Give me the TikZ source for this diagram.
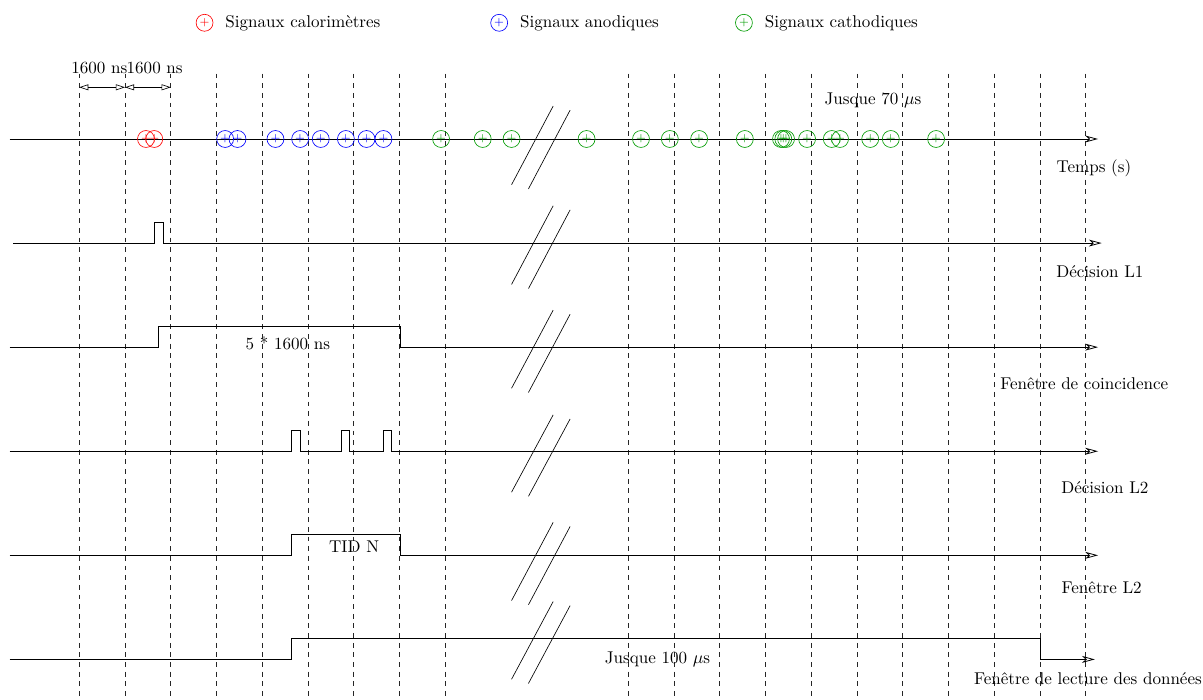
\documentclass[tikz,border=0pt]{standalone}
\usepackage{amsmath}
\usepackage{tikz}
\usetikzlibrary{arrows.meta,positioning}
\definecolor{caloc}{RGB}{255,0,0}
\definecolor{anoc}{RGB}{0,0,255}
\definecolor{cathc}{RGB}{0,155,0}
\tikzset{
  sig/.style={circle,draw,minimum size=3.7mm,inner sep=0pt,font=\scriptsize},
  vline/.style={dashed,line width=0.45pt,black!85},
  axe/.style={-{Stealth[open,length=2.8mm,width=1.5mm,inset=0.8mm]},line width=0.5pt},
  brk/.style={line width=0.4pt},
  dim/.style={{Triangle[open,length=2mm,width=1.3mm]}-{Triangle[open,length=2mm,width=1.3mm]},line width=0.4pt},
}

\begin{document}
\begin{tikzpicture}[font=\fontsize{10.6}{12.7}\selectfont]
  \useasboundingbox (-1.731,-12.262) rectangle (24.564,3.038);
  % legend
  \node[sig,caloc] (lr) at (2.74,2.54){$+$};
  \node[right=1.4mm of lr] (tr){Signaux calorimètres};
  \node[sig,anoc] (lb) at (9.18,2.54){$+$};
  \node[right=1.4mm of lb] (tb){Signaux anodiques};
  \node[sig,cathc] (lg) at (14.53,2.54){$+$};
  \node[right=1.4mm of lg] (tg){Signaux cathodiques};
  % 1600 ns slots
  \foreach \x in {0,...,8,12,13,...,22} \draw[vline] (\x,1.43) -- (\x,-12.262);
  \coordinate (g0) at (0,1.13); \coordinate (g1) at (1,1.13); \coordinate (g2) at (2,1.13);
  \draw[dim] (g0) -- (g1); \draw[dim] (g1) -- (g2);
  \node (n0) at (0.44,1.56){1600 ns}; \node (n1) at (1.65,1.56){1600 ns};
  % time axis and signals
  \draw[axe] (-1.52,0) -- (22.27,0);
  \foreach \x [count=\i] in {1.46,1.64} \node[sig,caloc] (r\i) at (\x,0){$+$};
  \foreach \x [count=\i] in {3.19,3.46,4.29,4.83,5.28,5.83,6.28,6.65} \node[sig,anoc] (a\i) at (\x,0){$+$};
  \foreach \x [count=\i] in {7.91,8.82,9.45,11.09,12.28,12.91,13.55,14.55,15.34,15.39,15.45,15.91,16.45,16.63,17.29,17.74,18.73}
    \node[sig,cathc] (c\i) at (\x,0){$+$};
  \node (j70) at (17.35,0.84){Jusque 70 $\mu$s};
  \node (temps) at (22.18,-0.63){Temps (s)};
  % L1
  \draw[axe] (-1.44,-2.275) -- (1.64,-2.275) -- (1.64,-1.825) -- (1.83,-1.825) -- (1.83,-2.275) -- (22.35,-2.275);
  \node (dl1) at (22.31,-2.9){Décision L1};
  % coincidence window
  \draw[axe] (-1.52,-4.55) -- (1.74,-4.55) -- (1.74,-4.1) -- (7.01,-4.1) -- (7.01,-4.55) -- (22.27,-4.55);
  \node (w5) at (4.56,-4.47){5 * 1600 ns};
  \node (fc) at (21.97,-5.34){Fenêtre de coincidence};
  % L2
  \draw[axe] (-1.52,-6.825) -- (4.64,-6.825) -- (4.64,-6.375) -- (4.84,-6.375) -- (4.84,-6.825)
    -- (5.73,-6.825) -- (5.73,-6.375) -- (5.91,-6.375) -- (5.91,-6.825)
    -- (6.65,-6.825) -- (6.65,-6.375) -- (6.82,-6.375) -- (6.82,-6.825) -- (22.27,-6.825);
  \node (dl2) at (22.42,-7.61){Décision L2};
  % L2 window
  \draw[axe] (-1.52,-9.1) -- (4.64,-9.1) -- (4.64,-8.65) -- (7.01,-8.65) -- (7.01,-9.1) -- (22.27,-9.1);
  \node (tid) at (6.01,-8.91){TID N};
  \node (fl2) at (22.35,-9.80){Fenêtre L2};
  % readout window
  \draw[axe] (-1.52,-11.375) -- (4.64,-11.375) -- (4.64,-10.925) -- (21.0,-10.925) -- (21.0,-11.375) -- (22.2,-11.375);
  \node (j100) at (12.64,-11.37){Jusque 100 $\mu$s};
  \node (fld) at (22.05,-11.79){Fenêtre de lecture des données};
  % breaks
  \foreach \b/\t in {-1.0/0.72,-3.18/-1.46,-5.45/-3.74,-7.72/-6.03,-10.09/-8.38,-11.81/-10.11}{
    \draw[brk] (9.45,\b) -- (10.36,\t);
    \draw[brk] (9.82,\b-0.09) -- (10.73,\t-0.09);
  }
\end{tikzpicture}
\end{document}
